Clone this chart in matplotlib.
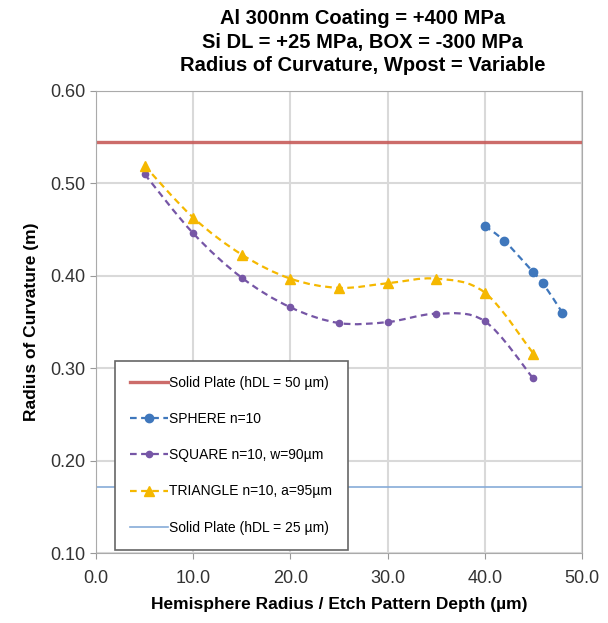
import numpy as np
import matplotlib
matplotlib.use('Agg')
import matplotlib.pyplot as plt
from matplotlib.path import Path
from matplotlib.patches import PathPatch
from matplotlib.lines import Line2D

plt.rcParams['font.family'] = ['Liberation Sans', 'DejaVu Sans']

# data
plate50 = 0.545
plate25 = 0.172

sphere_x = [40, 42, 45, 46, 48]
sphere_y = [0.454, 0.438, 0.404, 0.392, 0.360]

square_x = [5, 10, 15, 20, 25, 30, 35, 40, 45]
square_y = [0.510, 0.446, 0.398, 0.366, 0.349, 0.350, 0.359, 0.351, 0.289]

tri_x = [5, 10, 15, 20, 25, 30, 35, 40, 45]
tri_y = [0.519, 0.463, 0.423, 0.397, 0.387, 0.392, 0.397, 0.382, 0.316]

labels = ['Solid Plate (hDL = 50 µm)', 'SPHERE n=10', 'SQUARE n=10, w=90µm',
          'TRIANGLE n=10, a=95µm', 'Solid Plate (hDL = 25 µm)']
title = 'Al 300nm Coating = +400 MPa\nSi DL = +25 MPa, BOX = -300 MPa\nRadius of Curvature, Wpost = Variable'


def smooth_path(xs, ys):
    # catmull-rom -> bezier, like excel "smoothed line"
    pts = np.column_stack([xs, ys]).astype(float)
    verts = [pts[0]]
    codes = [Path.MOVETO]
    n = len(pts)
    for i in range(n - 1):
        p0 = pts[i - 1] if i > 0 else pts[i]
        p1 = pts[i]
        p2 = pts[i + 1]
        p3 = pts[i + 2] if i + 2 < n else pts[i + 1]
        c1 = p1 + (p2 - p0) / 6.0
        c2 = p2 - (p3 - p1) / 6.0
        verts += [c1, c2, p2]
        codes += [Path.CURVE4] * 3
    return Path(verts, codes)


fig = plt.figure(figsize=(6.08, 6.23), dpi=100)
ax = fig.add_axes([0.158, 0.112, 0.799, 0.742])

red = '#C75C5A'
blue = '#3F77BC'
purple = '#7656A6'
gold = '#F5B800'
lblue = '#86ABD8'
dash = (0, (3, 2))

ax.axhline(plate50, color=red, lw=2.4, alpha=0.9)
series = [(sphere_x, sphere_y, blue, 'o', 6),
          (square_x, square_y, purple, 'o', 4.5),
          (tri_x, tri_y, gold, '^', 7)]
for xs, ys, c, m, ms in series:
    ax.add_patch(PathPatch(smooth_path(xs, ys), fill=False, edgecolor=c,
                           lw=1.6, ls=dash, zorder=3))
    ax.plot(xs, ys, ls='None', color=c, marker=m, ms=ms, zorder=4)
ax.axhline(plate25, color=lblue, lw=1.2)

ax.set_xlim(0, 50)
ax.set_ylim(0.10, 0.60)
xt = np.arange(0, 51, 10)
yt = np.arange(0.10, 0.61, 0.10)
ax.set_xticks(xt)
ax.set_yticks(yt)
ax.set_xticklabels(['%.1f' % v for v in xt])
ax.set_yticklabels(['%.2f' % v for v in yt])
ax.tick_params(labelsize=13, colors='#333333', length=4, color='#999999')
ax.tick_params(axis='x', pad=8)
ax.grid(True, color='#d9d9d9', lw=1.5)
ax.set_axisbelow(True)
for s in ax.spines.values():
    s.set_color('#aaaaaa')

ax.set_xlabel('Hemisphere Radius / Etch Pattern Depth (µm)', fontsize=12.5,
              fontweight='bold', labelpad=7)
ax.set_ylabel('Radius of Curvature (m)', fontsize=12.5, fontweight='bold', labelpad=8)
fig.text(0.596, 0.985, title, fontsize=14.5, fontweight='bold', ha='center',
         va='top', linespacing=1.3, multialignment='center')

handles = [
    Line2D([], [], color=red, lw=2.4, alpha=0.9),
    Line2D([], [], color=blue, lw=1.6, ls=dash, marker='o', ms=6),
    Line2D([], [], color=purple, lw=1.6, ls=dash, marker='o', ms=4.5),
    Line2D([], [], color=gold, lw=1.6, ls=dash, marker='^', ms=7),
    Line2D([], [], color=lblue, lw=1.2),
]
leg = ax.legend(handles, labels, loc='lower left', bbox_to_anchor=(0.025, -0.008),
                fontsize=10, labelspacing=1.6, handlelength=2.7, handletextpad=0.1,
                borderpad=1.1, borderaxespad=0.5, fancybox=False, framealpha=1,
                edgecolor='#666666')
leg.get_frame().set_linewidth(1.2)

fig.savefig('out.png', dpi=100)
